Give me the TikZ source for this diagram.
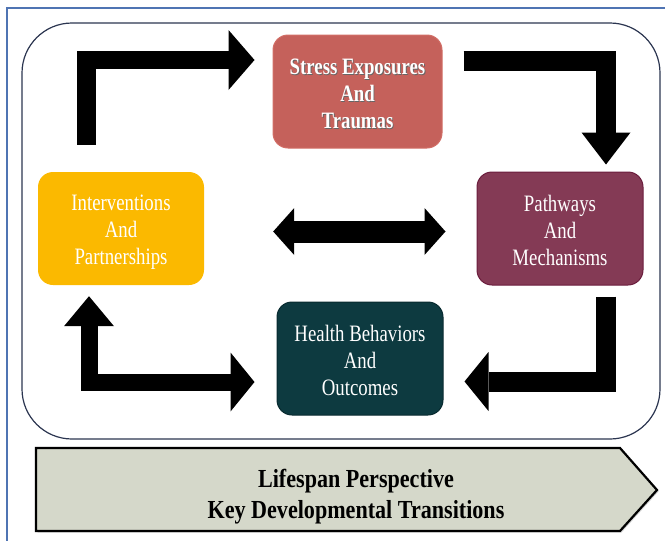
\documentclass[tikz,border=0pt]{standalone}
\usepackage{fontspec}
\setmainfont{Liberation Serif}
\newfontfamily\boxfont[FakeStretch=0.8]{Liberation Serif}
\newfontfamily\bannerfont[FakeStretch=0.85]{Liberation Serif}
\usetikzlibrary{arrows.meta,shadows}

\definecolor{pageframe}{HTML}{4F74B3}
\definecolor{cycleframe}{HTML}{2B3550}
\definecolor{stressred}{HTML}{C5615B}
\definecolor{stressedge}{HTML}{D26E66}
\definecolor{amber}{HTML}{FBB900}
\definecolor{plum}{HTML}{843A55}
\definecolor{plumedge}{HTML}{6B1D3D}
\definecolor{deepteal}{HTML}{0D3A40}
\definecolor{tealedge}{HTML}{082A2F}
\definecolor{sage}{HTML}{D5D8CA}

% white lettering with a faint dark drop shadow
\newcommand\shadowtext[1]{\makebox[0pt][l]{\hspace{0.9pt}\raisebox{-0.9pt}{\textcolor{black!60}{#1}}}#1}
% three centred lines, held a little below the middle of the box
\newcommand\threelines[3]{\rule{0pt}{22.5pt}#1\\#2\\#3\rule[-2pt]{0pt}{2pt}}

\tikzset{
  stage/.style={rounded corners=15pt, minimum width=166pt, minimum height=113pt,
    inner sep=0pt, align=center, text=white,
    font=\boxfont\fontsize{23.5}{27}\selectfont},
  blockarrow/.style={draw=black, line join=miter, line cap=butt},
  bannerbox/.style={draw=black, line width=2.2pt, fill=sage, line join=miter,
    drop shadow={shadow xshift=1.5pt, shadow yshift=-1.5pt, opacity=0.35}},
}

\begin{document}
\begin{tikzpicture}[x=1pt, y=-1pt]
\useasboundingbox (0,0) rectangle (665,541);

% page frame (left and top edges)
\draw[pageframe, line width=1.2pt] (7,541) -- (7,8) -- (665,8);

% rounded frame around the cycle
\draw[cycleframe, line width=1.2pt, rounded corners=50pt] (22,23) rectangle (660,439);

% the four stages
\node[stage, minimum width=169pt, fill=stressred, draw=stressedge, line width=1pt,
  font=\boxfont\bfseries\fontsize{23.5}{27}\selectfont] (stress) at (357.5,91.5)
  {\threelines{\shadowtext{Stress Exposures}}{\shadowtext{And}}{\shadowtext{Traumas}}};
\node[stage, fill=amber] (intv) at (121,228.5)
  {\threelines{Interventions}{And}{Partnerships}};
\node[stage, fill=plum, draw=plumedge, line width=1pt] (path) at (560,228.5)
  {\threelines{Pathways}{And}{Mechanisms}};
\node[stage, fill=deepteal, draw=tealedge, line width=1pt] (health) at (360,358.5)
  {\threelines{Health Behaviors}{And}{Outcomes}};

% block arrows of the cycle
\draw[blockarrow, line width=18.5pt,
  -{Triangle[width=60pt,length=26pt,line width=0pt]}]
  ([xshift=-34.5pt,yshift=27pt]intv.north) |- ([xshift=-18pt,yshift=31.5pt]stress.west);
\draw[blockarrow, line width=19.5pt,
  -{Triangle[width=49pt,length=32pt,line width=0pt]}]
  ([xshift=21pt,yshift=30.5pt]stress.east) -| ([xshift=46pt,yshift=7pt]path.north);
\draw[blockarrow, line width=22pt,
  {Triangle[width=47pt,length=21pt,line width=0pt]}-{Triangle[width=47pt,length=21pt,line width=0pt]}]
  ([xshift=69pt,yshift=-3pt]intv.east) -- ([xshift=-31pt,yshift=-3pt]path.west);
\draw[blockarrow, line width=17pt,
  {Triangle[width=50pt,length=30pt,line width=0pt]}-{Triangle[width=59pt,length=24pt,line width=0pt]}]
  ([xshift=-32pt,yshift=-11pt]intv.south) |- ([xshift=-22pt,yshift=-23.5pt]health.west);
\draw[blockarrow, line width=20pt,
  -{Triangle[width=59pt,length=24pt,line width=0pt]}]
  ([xshift=46pt,yshift=-11pt]path.south) |- ([xshift=21pt,yshift=-23pt]health.east);

% lifespan banner
\draw[bannerbox] (36,448) -- (620,448) -- (657,490) -- (620,531) -- (36,531) -- cycle;
\node[align=center, inner sep=0pt,
  font=\bannerfont\bfseries\fontsize{26}{31}\selectfont] (banner) at (356,496.5)
  {Lifespan Perspective\\Key Developmental Transitions};
\end{tikzpicture}
\end{document}
